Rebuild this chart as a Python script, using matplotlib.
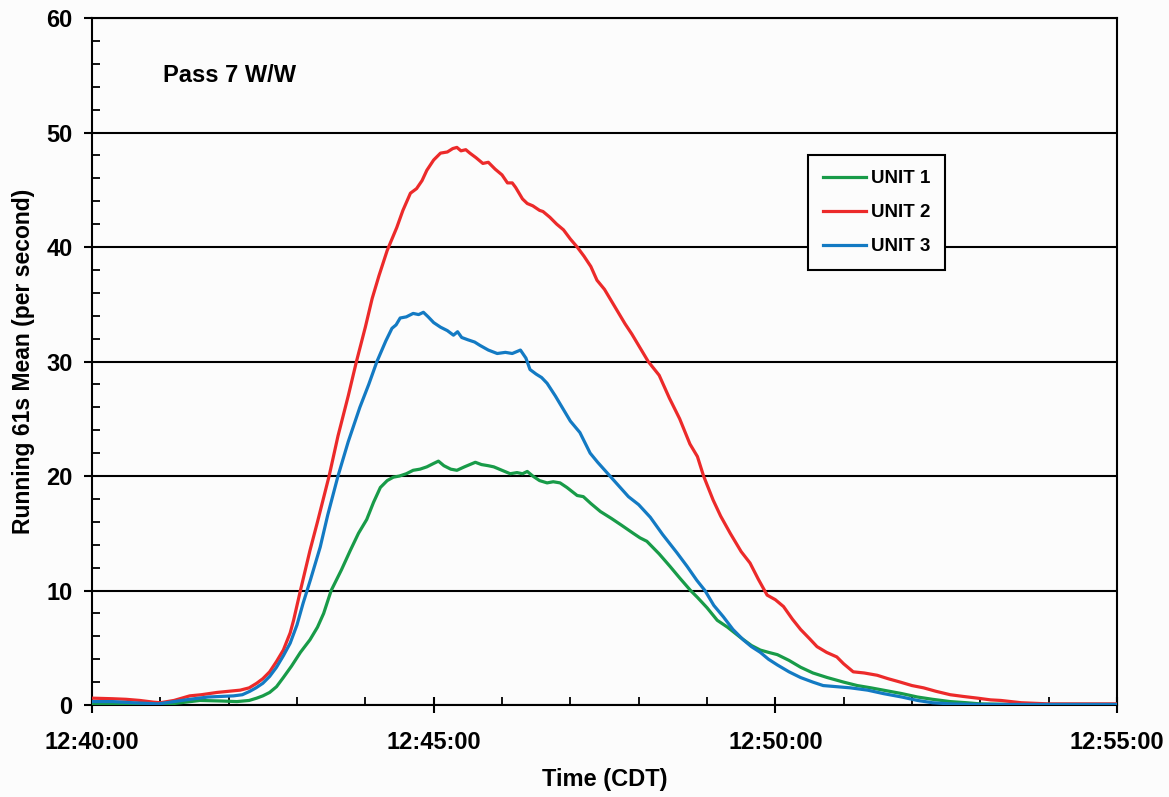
import matplotlib
matplotlib.use("Agg")
import matplotlib.pyplot as plt
from matplotlib.ticker import MultipleLocator, FixedLocator

plt.rcParams['font.family'] = ['Liberation Sans', 'DejaVu Sans']
plt.rcParams['font.weight'] = 'bold'

# minutes after 12:40:00, running 61 s mean counts
t_unit1 = [0.0, 0.5, 1.0, 1.3, 1.58, 1.9, 2.12, 2.3, 2.41, 2.5, 2.6, 2.7, 2.8, 2.92,
           3.05, 3.19, 3.3, 3.39, 3.5, 3.65, 3.78, 3.9, 4.02, 4.12, 4.22, 4.32, 4.41,
           4.5, 4.6, 4.7, 4.8, 4.9, 5.0, 5.07, 5.15, 5.25, 5.34, 5.45, 5.53, 5.61, 5.7,
           5.8, 5.88, 6.0, 6.12, 6.22, 6.3, 6.37, 6.45, 6.55, 6.66, 6.75, 6.85, 6.95,
           7.1, 7.19, 7.3, 7.44, 7.6, 7.75, 7.92, 8.02, 8.12, 8.3, 8.46, 8.6, 8.76,
           8.86, 9.0, 9.15, 9.3, 9.49, 9.65, 9.78, 9.9, 10.03, 10.2, 10.37, 10.55,
           10.76, 11.0, 11.2, 11.4, 11.58, 11.85, 12.08, 12.3, 12.56, 12.8, 13.0, 13.5,
           15.0]
v_unit1 = [0.1, 0.05, 0.0, 0.2, 0.4, 0.35, 0.3, 0.4, 0.6, 0.8, 1.1, 1.6, 2.4, 3.4,
           4.6, 5.7, 6.8, 8.0, 10.0, 11.8, 13.5, 15.0, 16.2, 17.7, 19.0, 19.6, 19.9,
           20.0, 20.2, 20.5, 20.6, 20.8, 21.1, 21.3, 20.9, 20.6, 20.5, 20.8, 21.0, 21.2,
           21.0, 20.9, 20.8, 20.5, 20.2, 20.3, 20.2, 20.4, 20.0, 19.6, 19.4, 19.5, 19.4,
           19.0, 18.3, 18.2, 17.6, 16.9, 16.3, 15.7, 15.0, 14.6, 14.3, 13.2, 12.1, 11.1,
           10.0, 9.4, 8.5, 7.4, 6.8, 5.9, 5.2, 4.8, 4.6, 4.4, 3.9, 3.3, 2.8, 2.4, 2.0,
           1.7, 1.5, 1.3, 1.0, 0.7, 0.5, 0.3, 0.2, 0.1, 0.05, 0.05]

t_unit2 = [0.0, 0.3, 0.5, 0.7, 0.9, 1.0, 1.2, 1.43, 1.6, 1.83, 2.0, 2.17, 2.3, 2.41,
           2.5, 2.6, 2.7, 2.8, 2.9, 2.95, 3.05, 3.19, 3.3, 3.47, 3.6, 3.75, 3.87, 4.0,
           4.1, 4.2, 4.32, 4.46, 4.55, 4.66, 4.75, 4.83, 4.9, 5.0, 5.1, 5.2, 5.28, 5.34,
           5.4, 5.47, 5.53, 5.62, 5.72, 5.8, 5.9, 6.0, 6.08, 6.15, 6.2, 6.3, 6.37, 6.45,
           6.55, 6.6, 6.7, 6.8, 6.9, 7.0, 7.1, 7.2, 7.3, 7.39, 7.5, 7.65, 7.8, 7.9, 8.0,
           8.14, 8.3, 8.45, 8.6, 8.75, 8.86, 8.95, 9.09, 9.2, 9.34, 9.5, 9.63, 9.75,
           9.88, 10.0, 10.12, 10.25, 10.37, 10.5, 10.61, 10.75, 10.9, 11.0, 11.14, 11.3,
           11.49, 11.65, 11.83, 12.0, 12.17, 12.35, 12.56, 12.75, 12.96, 13.15, 13.3,
           13.6, 14.0, 14.5, 15.0]
v_unit2 = [0.6, 0.55, 0.5, 0.4, 0.25, 0.2, 0.4, 0.8, 0.9, 1.1, 1.2, 1.3, 1.5, 1.9,
           2.3, 2.9, 3.8, 4.8, 6.3, 7.4, 10.0, 13.5, 16.0, 20.0, 23.5, 27.0, 30.0, 33.0,
           35.5, 37.5, 39.7, 41.7, 43.2, 44.7, 45.1, 45.8, 46.7, 47.6, 48.2, 48.3, 48.6,
           48.7, 48.4, 48.5, 48.2, 47.8, 47.3, 47.4, 46.8, 46.3, 45.6, 45.6, 45.2, 44.2,
           43.8, 43.6, 43.2, 43.1, 42.6, 42.0, 41.5, 40.7, 40.0, 39.2, 38.3, 37.1, 36.3,
           34.8, 33.3, 32.4, 31.4, 30.0, 28.8, 26.8, 25.0, 22.8, 21.7, 20.0, 17.9, 16.5,
           15.0, 13.4, 12.4, 11.0, 9.6, 9.2, 8.6, 7.5, 6.6, 5.8, 5.1, 4.6, 4.2, 3.6, 2.9,
           2.8, 2.6, 2.3, 2.0, 1.7, 1.5, 1.2, 0.9, 0.75, 0.6, 0.45, 0.4, 0.2, 0.1, 0.1,
           0.1]

t_unit3 = [0.0, 0.3, 0.6, 0.97, 1.2, 1.43, 1.7, 2.07, 2.2, 2.31, 2.4, 2.5, 2.6, 2.7,
           2.8, 2.9, 3.0, 3.09, 3.2, 3.34, 3.45, 3.6, 3.75, 3.92, 4.05, 4.17, 4.3, 4.39,
           4.45, 4.51, 4.6, 4.7, 4.78, 4.85, 4.92, 5.0, 5.1, 5.2, 5.29, 5.35, 5.41, 5.5,
           5.6, 5.68, 5.8, 5.93, 6.05, 6.15, 6.27, 6.35, 6.41, 6.5, 6.58, 6.66, 6.78,
           6.9, 7.0, 7.14, 7.29, 7.4, 7.58, 7.7, 7.85, 8.0, 8.17, 8.35, 8.56, 8.71, 8.85,
           8.97, 9.1, 9.24, 9.38, 9.53, 9.65, 9.78, 9.9, 10.03, 10.2, 10.37, 10.55, 10.7,
           10.9, 11.1, 11.35, 11.58, 11.85, 12.08, 12.3, 12.56, 13.0, 15.0]
v_unit3 = [0.3, 0.3, 0.2, 0.1, 0.3, 0.5, 0.7, 0.8, 0.9, 1.2, 1.5, 1.9, 2.5, 3.3,
           4.3, 5.4, 7.0, 8.9, 11.0, 13.8, 16.6, 20.0, 23.0, 26.0, 28.0, 30.0, 31.8,
           32.9, 33.2, 33.8, 33.9, 34.2, 34.1, 34.3, 33.9, 33.4, 33.0, 32.7, 32.3, 32.6,
           32.1, 31.9, 31.7, 31.4, 31.0, 30.7, 30.8, 30.7, 31.0, 30.3, 29.3, 28.9, 28.6,
           28.1, 27.0, 25.8, 24.8, 23.8, 22.0, 21.2, 20.0, 19.2, 18.2, 17.5, 16.4, 14.9,
           13.3, 12.1, 10.9, 10.0, 8.7, 7.7, 6.6, 5.7, 5.1, 4.6, 4.0, 3.5, 2.9, 2.4, 2.0,
           1.7, 1.6, 1.5, 1.3, 1.0, 0.7, 0.4, 0.2, 0.1, 0.05, 0.05]

tick_minutes = [0, 5, 10, 15]
tick_labels = ["12:40:00", "12:45:00", "12:50:00", "12:55:00"]

fig = plt.figure(figsize=(11.69, 7.97), dpi=100, facecolor='#fcfcfc')
ax = fig.add_axes([0.0787, 0.1154, 0.8768, 0.862])
ax.set_facecolor('#fcfcfc')

ax.plot(t_unit1, v_unit1, color='#189b48', lw=2.3, label='UNIT 1', zorder=3)
ax.plot(t_unit2, v_unit2, color='#ec2a2a', lw=2.3, label='UNIT 2', zorder=3)
ax.plot(t_unit3, v_unit3, color='#137ac3', lw=2.3, label='UNIT 3', zorder=4)

ax.set_xlim(0, 15)
ax.set_ylim(0, 60)
ax.xaxis.set_major_locator(FixedLocator(tick_minutes))
ax.set_xticklabels(tick_labels)
ax.xaxis.set_minor_locator(MultipleLocator(1))
ax.yaxis.set_major_locator(MultipleLocator(10))
ax.yaxis.set_minor_locator(MultipleLocator(2))

ax.grid(True, which='major', axis='y', color='black', lw=1.5)
ax.set_axisbelow(True)
for s in ax.spines.values():
    s.set_linewidth(1.5)
    s.set_color('black')

ax.tick_params(axis='x', which='major', direction='inout', length=11, width=1.5,
               pad=13, labelsize=17)
ax.tick_params(axis='x', which='minor', direction='in', length=6, width=1.3)
ax.tick_params(axis='y', which='major', direction='out', length=6, width=1.5,
               pad=8, labelsize=17)
ax.tick_params(axis='y', which='minor', direction='in', length=6, width=1.3)

ax.set_xlabel('Time (CDT)', fontsize=17, fontweight='bold', labelpad=10)
ax.set_ylabel('Running 61s Mean (per second)', fontsize=16.5, fontweight='bold',
              labelpad=8)

ax.text(1.04, 55.0, 'Pass 7 W/W', fontsize=17, fontweight='bold', va='center',
        ha='left')

leg = ax.legend(loc='upper left', bbox_to_anchor=(0.6985, 0.8006), borderaxespad=0,
                fancybox=False, framealpha=1, edgecolor='black', facecolor='#fcfcfc',
                prop={'size': 13.5, 'weight': 'bold'}, handlelength=2.3,
                handletextpad=0.25, labelspacing=0.9, borderpad=0.8)
leg.get_frame().set_linewidth(1.5)
for h in leg.get_lines():
    h.set_linewidth(2.3)

fig.savefig('out.png', dpi=100, facecolor=fig.get_facecolor())
